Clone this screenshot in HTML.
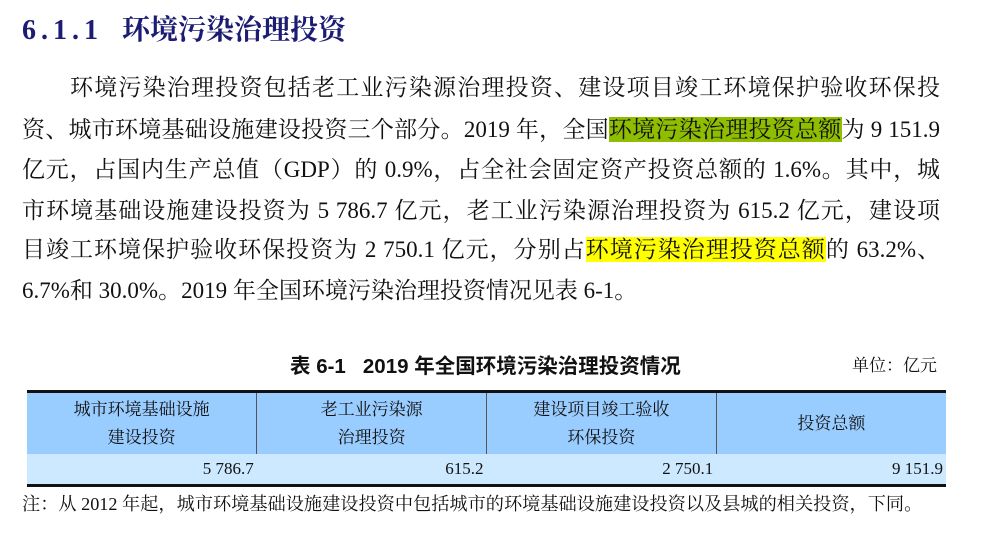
<!DOCTYPE html>
<html><head><meta charset="utf-8"><style>
body{margin:0;width:982px;height:535px;background:#fff;position:relative;overflow:hidden;font-family:"Liberation Serif","Noto Serif CJK SC",serif;color:#111}
.h{position:absolute;left:22px;top:11px;font-size:28px;font-weight:bold;color:#1c1c72;white-space:nowrap;line-height:40px;height:40px}
.h b{letter-spacing:5px;display:inline-block;width:100px;vertical-align:baseline}
.ln{position:absolute;left:22px;width:918px;font-size:23px;line-height:30px;height:30px;text-align:justify;text-align-last:justify;white-space:nowrap}
.g{background:#8fbd00}.y{background:#ffff00}
.tt{position:absolute;top:349px;left:290px;font-family:"Liberation Sans","Noto Sans CJK SC",sans-serif;font-weight:bold;font-size:20.5px;white-space:nowrap}
.un{position:absolute;top:351px;left:852px;font-size:17px}
table{position:absolute;left:27px;top:390px;width:919px;border-collapse:collapse;font-size:17px}
th{background:#99ccff;font-weight:normal;height:59px;line-height:28px;border-left:1px solid #555;border-top:3px solid #111;width:25%}
th:first-child{border-left:none}
td{background:#cce9ff;height:30px;text-align:right;border-bottom:3px solid #111;padding:0 3px 0 0;font-size:17px}
.n{position:absolute;left:22px;top:490px;font-size:18.2px;white-space:nowrap}
</style></head><body>
<div class="h"><b>6.1.1</b><span>环境污染治理投资</span></div>
<div class="ln" style="left:70px;width:870px;top:73px">环境污染治理投资包括老工业污染源治理投资、建设项目竣工环境保护验收环保投</div>
<div class="ln" style="top:115px">资、城市环境基础设施建设投资三个部分。2019 年，全国<span class="g">环境污染治理投资总额</span>为 9 151.9</div>
<div class="ln" style="top:155px">亿元，占国内生产总值（GDP）的 0.9%，占全社会固定资产投资总额的 1.6%。其中，城</div>
<div class="ln" style="top:196px">市环境基础设施建设投资为 5 786.7 亿元，老工业污染源治理投资为 615.2 亿元，建设项</div>
<div class="ln" style="top:235px">目竣工环境保护验收环保投资为 2 750.1 亿元，分别占<span class="y">环境污染治理投资总额</span>的 63.2%、</div>
<div class="ln" style="top:276px;text-align-last:left;text-align:left">6.7%和 30.0%。2019 年全国环境污染治理投资情况见表 6-1。</div>
<div class="tt">表 6-1&nbsp;&nbsp; 2019 年全国环境污染治理投资情况</div>
<div class="un">单位：亿元</div>
<table>
<tr><th>城市环境基础设施<br>建设投资</th><th>老工业污染源<br>治理投资</th><th>建设项目竣工验收<br>环保投资</th><th>投资总额</th></tr>
<tr><td>5 786.7</td><td>615.2</td><td>2 750.1</td><td>9 151.9</td></tr>
</table>
<div class="n">注：从 2012 年起，城市环境基础设施建设投资中包括城市的环境基础设施建设投资以及县城的相关投资，下同。</div>
</body></html>
